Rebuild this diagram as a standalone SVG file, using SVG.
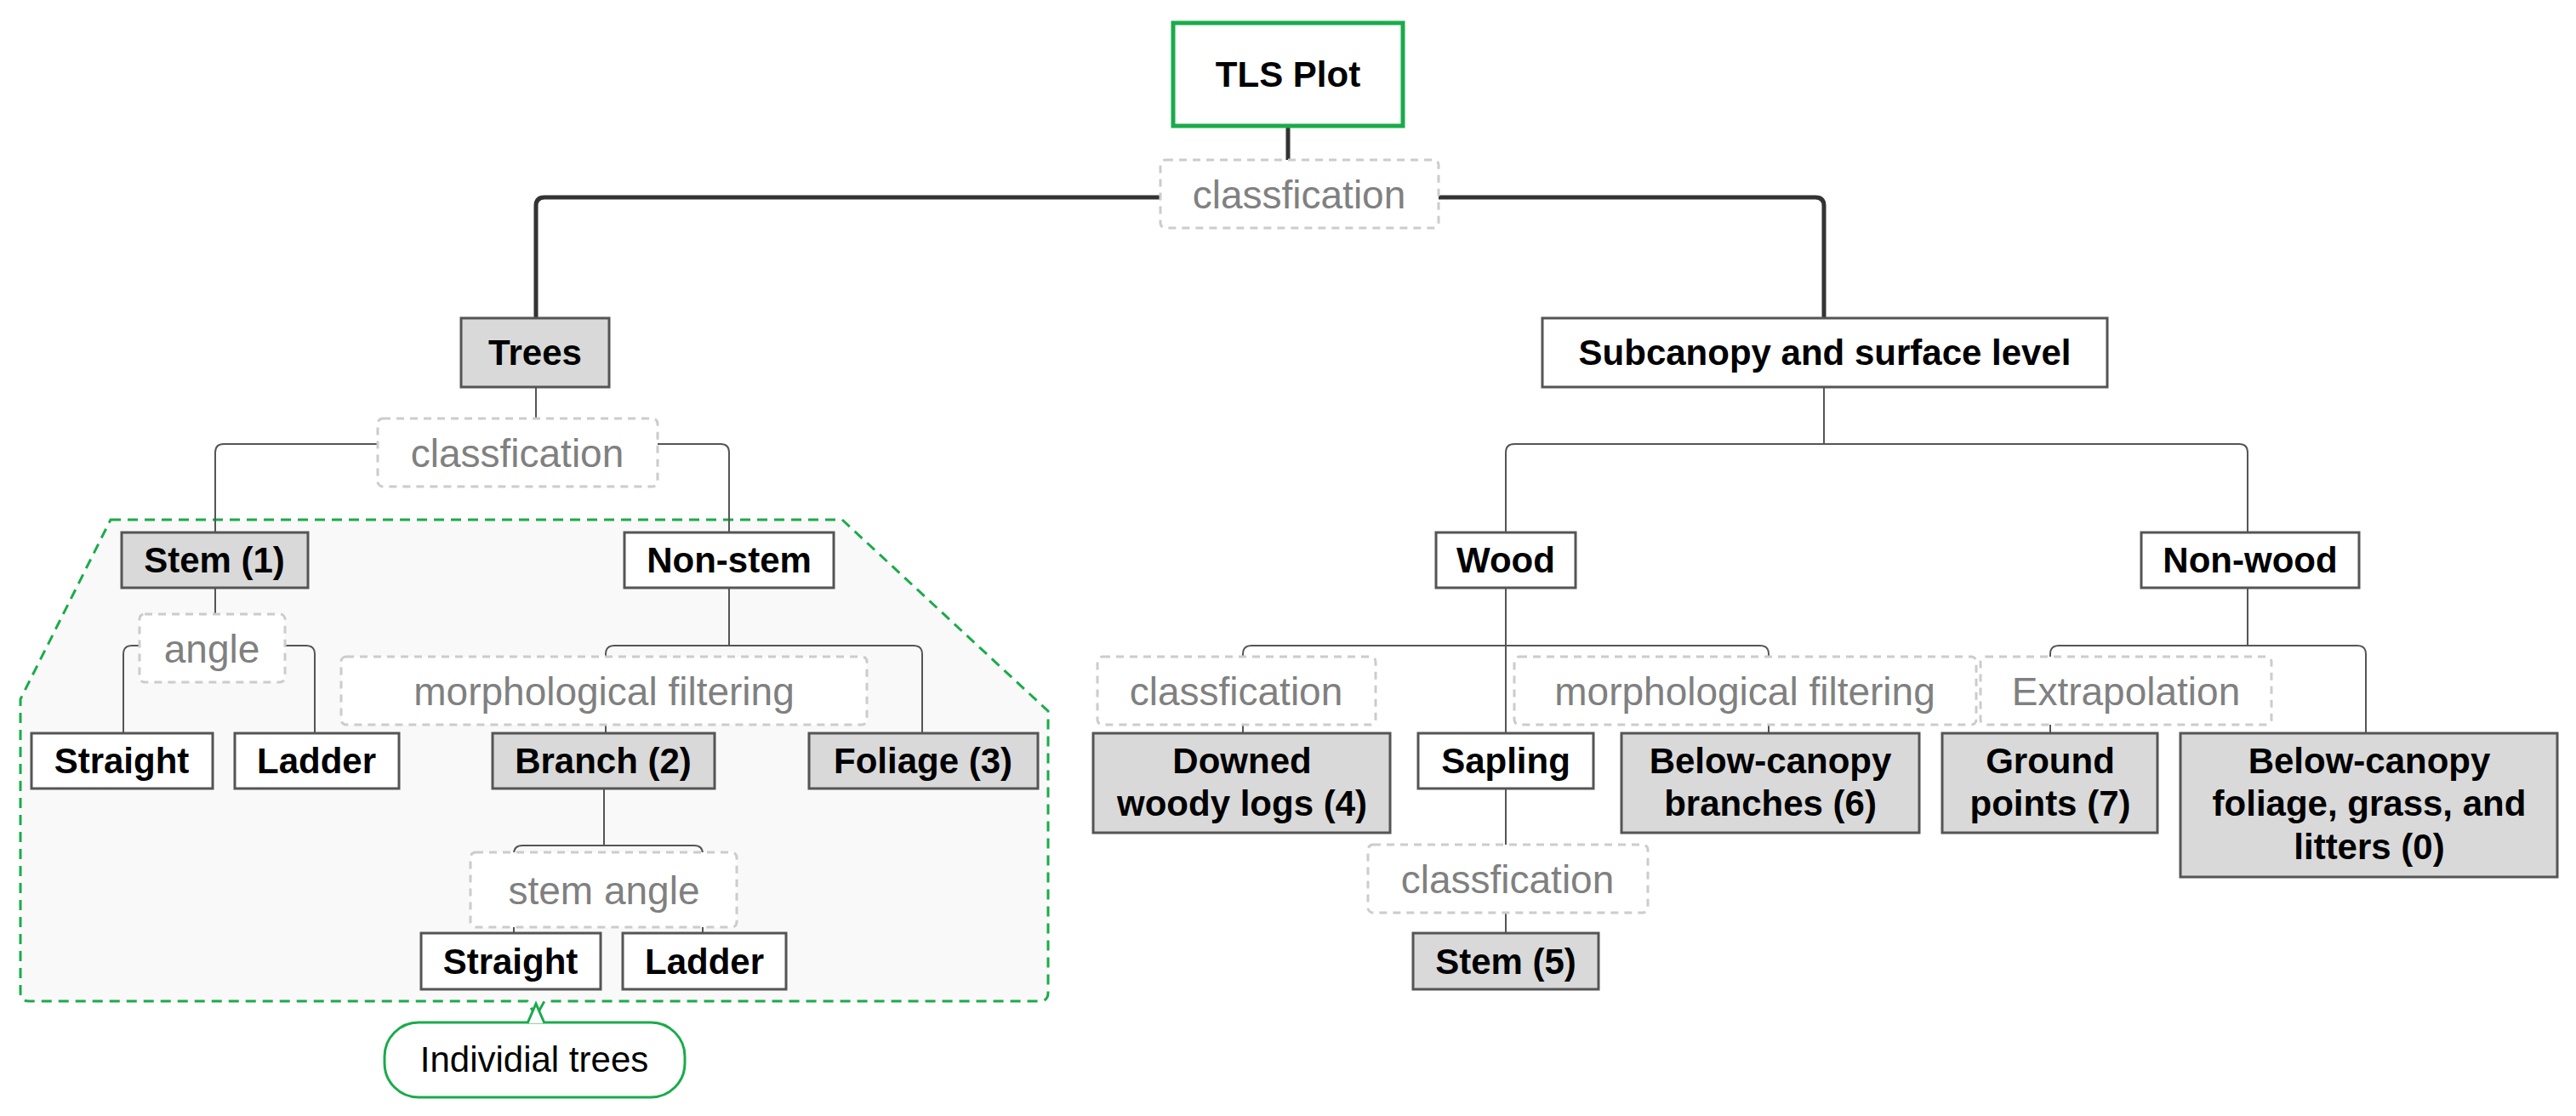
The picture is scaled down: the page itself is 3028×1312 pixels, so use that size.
<svg xmlns="http://www.w3.org/2000/svg" width="3028" height="1312" viewBox="0 0 3028 1312">
<style>
.n{fill:#fff;stroke:#555;stroke-width:3}
.g{fill:#d9d9d9;stroke:#555;stroke-width:3}
.t{font-family:"Liberation Sans",Arial,sans-serif;font-weight:bold;font-size:42px;fill:#000;text-anchor:middle}
.lb{fill:#fff;stroke:#ccc;stroke-width:3;stroke-dasharray:9 7}
.lt{font-family:"Liberation Sans",Arial,sans-serif;font-size:46px;fill:#808080;text-anchor:middle}
.c{fill:none;stroke:#555;stroke-width:2}
.ck{fill:none;stroke:#333;stroke-width:5}
</style>
<rect width="3028" height="1312" fill="#fff"/>
<g id="region">
<path d="M130,611 L990,611 L1232,836 L1232,1167 Q1232,1177 1222,1177 L640,1177 L630,1195 L620,1177 L34,1177 Q24,1177 24,1167 L24,822 Z" fill="#f8f9f8" stroke="#1aab4b" stroke-width="3" stroke-dasharray="12 8"/>
</g>
<g id="connectors">
<path class="ck" d="M1514,148 V188 M1364,232 H640 Q630,232 630,242 V374 M1691,232 H2134 Q2144,232 2144,242 V374"/>
<path class="c" d="M630,455 V492 M444,522 H263 Q253,522 253,532 V626 M773,522 H847 Q857,522 857,532 V626"/>
<path class="c" d="M2144,455 V522 M1780,522 H2632 Q2642,522 2642,532 V626 M1780,522 Q1770,522 1770,532 V626"/>
<path class="c" d="M253,691 V722 M164,759 H155 Q145,759 145,769 V862 M335,759 H360 Q370,759 370,769 V862"/>
<path class="c" d="M857,691 V759 M722,759 H1074 Q1084,759 1084,769 V862 M722,759 Q712,759 712,769 V862"/>
<path class="c" d="M710,927 V994 M614,994 H816 Q826,994 826,1004 V1097 M614,994 Q604,994 604,1004 V1097"/>
<path class="c" d="M1770,691 V862 M1471,759 H2069 Q2079,759 2079,769 V862 M1471,759 Q1461,759 1461,769 V862"/>
<path class="c" d="M2642,691 V759 M2420,759 H2771 Q2781,759 2781,769 V862 M2420,759 Q2410,759 2410,769 V862"/>
<path class="c" d="M1770,927 V993 M1770,1073 V1097"/>
</g>
<g id="lbl-top"><rect class="lb" x="1364" y="188" width="327" height="80" rx="6"/><text class="lt" x="1527" y="245">classfication</text></g>
<g id="lbl-trees"><rect class="lb" x="444" y="492" width="329" height="80" rx="6"/><text class="lt" x="608" y="549">classfication</text></g>
<g id="lbl-angle"><rect class="lb" x="164" y="722" width="171" height="80" rx="6"/><text class="lt" x="249" y="779">angle</text></g>
<g id="lbl-morph1"><rect class="lb" x="401" y="772" width="618" height="80" rx="6"/><text class="lt" x="710" y="829">morphological filtering</text></g>
<g id="lbl-stemangle"><rect class="lb" x="553" y="1002" width="313" height="88" rx="6"/><text class="lt" x="710" y="1063">stem angle</text></g>
<g id="lbl-class2"><rect class="lb" x="1290" y="772" width="327" height="80" rx="6"/><text class="lt" x="1453" y="829">classfication</text></g>
<g id="lbl-morph2"><rect class="lb" x="1780" y="772" width="543" height="80" rx="6"/><text class="lt" x="2051" y="829">morphological filtering</text></g>
<g id="lbl-extra"><rect class="lb" x="2328" y="772" width="342" height="80" rx="6"/><text class="lt" x="2499" y="829">Extrapolation</text></g>
<g id="lbl-class3"><rect class="lb" x="1608" y="993" width="329" height="80" rx="6"/><text class="lt" x="1772" y="1050">classfication</text></g>
<g id="tls"><rect x="1379" y="27" width="270" height="121" fill="#fff" stroke="#1aab4b" stroke-width="5"/><text class="t" x="1514" y="102">TLS Plot</text></g>
<g id="trees"><rect class="g" x="542" y="374" width="174" height="81"/><text class="t" x="629" y="429">Trees</text></g>
<g id="subcanopy"><rect class="n" x="1813" y="374" width="664" height="81"/><text class="t" x="2145" y="429">Subcanopy and surface level</text></g>
<g id="stem1"><rect class="g" x="143" y="626" width="219" height="65"/><text class="t" x="252" y="673">Stem (1)</text></g>
<g id="nonstem"><rect class="n" x="734" y="626" width="246" height="65"/><text class="t" x="857" y="673">Non-stem</text></g>
<g id="straight1"><rect class="n" x="37" y="862" width="213" height="65"/><text class="t" x="143" y="909">Straight</text></g>
<g id="ladder1"><rect class="n" x="276" y="862" width="193" height="65"/><text class="t" x="372" y="909">Ladder</text></g>
<g id="branch2"><rect class="g" x="579" y="862" width="261" height="65"/><text class="t" x="709" y="909">Branch (2)</text></g>
<g id="foliage3"><rect class="g" x="951" y="862" width="269" height="65"/><text class="t" x="1085" y="909">Foliage (3)</text></g>
<g id="straight2"><rect class="n" x="495" y="1097" width="211" height="66"/><text class="t" x="600" y="1145">Straight</text></g>
<g id="ladder2"><rect class="n" x="732" y="1097" width="192" height="66"/><text class="t" x="828" y="1145">Ladder</text></g>
<g id="individual"><rect x="452" y="1202" width="353" height="88" rx="40" fill="#fff" stroke="#1aab4b" stroke-width="3"/><path d="M620,1203 L630,1180 L640,1203" fill="#fff" stroke="#1aab4b" stroke-width="3"/><text x="628" y="1260" font-family="Liberation Sans,Arial,sans-serif" font-size="42" text-anchor="middle">Individial trees</text></g>
<g id="wood"><rect class="n" x="1688" y="626" width="164" height="65"/><text class="t" x="1770" y="673">Wood</text></g>
<g id="nonwood"><rect class="n" x="2517" y="626" width="256" height="65"/><text class="t" x="2645" y="673">Non-wood</text></g>
<g id="downed"><rect class="g" x="1285" y="862" width="349" height="117"/><text class="t" x="1460" y="909">Downed</text><text class="t" x="1460" y="959">woody logs (4)</text></g>
<g id="sapling"><rect class="n" x="1667" y="862" width="206" height="65"/><text class="t" x="1770" y="909">Sapling</text></g>
<g id="bcbranches"><rect class="g" x="1906" y="862" width="350" height="117"/><text class="t" x="2081" y="909">Below-canopy</text><text class="t" x="2081" y="959">branches (6)</text></g>
<g id="ground"><rect class="g" x="2283" y="862" width="253" height="117"/><text class="t" x="2410" y="909">Ground</text><text class="t" x="2410" y="959">points (7)</text></g>
<g id="bcfoliage"><rect class="g" x="2563" y="862" width="443" height="169"/><text class="t" x="2785" y="909">Below-canopy</text><text class="t" x="2785" y="959">foliage, grass, and</text><text class="t" x="2785" y="1010">litters (0)</text></g>
<g id="stem5"><rect class="g" x="1661" y="1097" width="218" height="66"/><text class="t" x="1770" y="1145">Stem (5)</text></g>
</svg>
